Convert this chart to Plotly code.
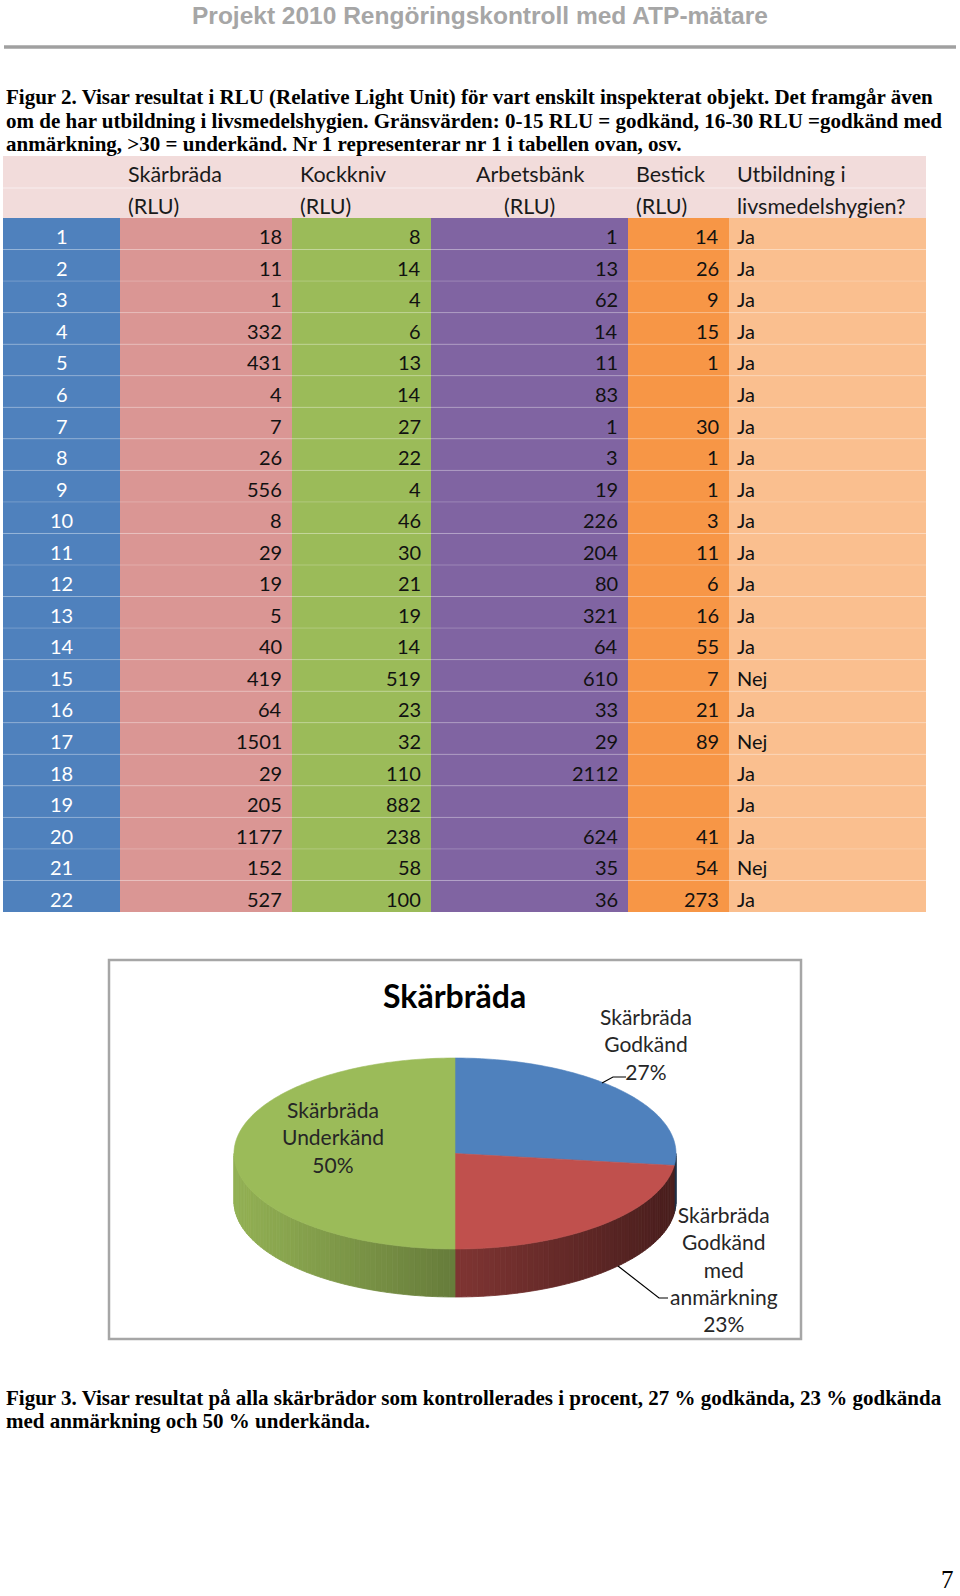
import numpy as np
import plotly.graph_objects as go

# ---------------- data ----------------
row_ids = [str(i) for i in range(1, 23)]
skarbrada = [18, 11, 1, 332, 431, 4, 7, 26, 556, 8, 29, 19, 5, 40, 419, 64, 1501, 29, 205, 1177, 152, 527]
kockkniv = [8, 14, 4, 6, 13, 14, 27, 22, 4, 46, 30, 21, 19, 14, 519, 23, 32, 110, 882, 238, 58, 100]
arbetsbank = [1, 13, 62, 14, 11, 83, 1, 3, 19, 226, 204, 80, 321, 64, 610, 33, 29, 2112, None, 624, 35, 36]
bestick = [14, 26, 9, 15, 1, None, 30, 1, 1, 3, 11, 6, 16, 55, 7, 21, 89, None, None, 41, 54, 273]
utbildning = ["Ja", "Ja", "Ja", "Ja", "Ja", "Ja", "Ja", "Ja", "Ja", "Ja", "Ja", "Ja", "Ja", "Ja",
              "Nej", "Ja", "Nej", "Ja", "Ja", "Ja", "Nej", "Ja"]
header_line1 = ["", "Skärbräda", "Kockkniv", "Arbetsbänk", "Bestick", "Utbildning i"]
header_line2 = ["", "(RLU)", "(RLU)", "(RLU)", "(RLU)", "livsmedelshygien?"]

pie_title = "Skärbräda"
pie_names = ["Skärbräda<br>Godkänd", "Skärbräda<br>Godkänd<br>med<br>anmärkning", "Skärbräda<br>Underkänd"]
pie_values = [27, 23, 50]

page_title = "Projekt 2010 Rengöringskontroll med ATP-mätare"
caption2 = ["Figur 2. Visar resultat i RLU (Relative Light Unit) för vart enskilt inspekterat objekt. Det framgår även",
            "om de har utbildning i livsmedelshygien. Gränsvärden: 0-15 RLU = godkänd, 16-30 RLU =godkänd med",
            "anmärkning, &gt;30 = underkänd. Nr 1 representerar nr 1 i tabellen ovan, osv."]
caption3 = ["Figur 3. Visar resultat på alla skärbrädor som kontrollerades i procent, 27 % godkända, 23 % godkända",
            "med anmärkning och 50 % underkända."]
page_number = "7"

# ---------------- layout / style ----------------
W, H = 960, 1596
col_edges = [3, 120, 292, 431, 628, 729, 926]
col_colors = ["#4F81BD", "#DA9694", "#9BBB59", "#8064A2", "#F79646", "#FABF8F"]
col_align = ["center", "right", "right", "right", "right", "left"]
head_align = ["left", "left", "left", "center", "left", "left"]
head_top, head_bot = 156, 218
row_h = (912 - 218) / 22
pad = 8
tfont = "Lato"
tsize = 20
hsize = 21.5
txt_dy = 2.5

fig = go.Figure()
shapes = []
annos = []


def text(x, y, s, size, color, family, xanchor="left", yanchor="middle", bold=False):
    annos.append(dict(x=x, y=y, xref="x", yref="y", text=("<b>%s</b>" % s) if bold else s,
                      showarrow=False, xanchor=xanchor, yanchor=yanchor,
                      font=dict(size=size, color=color, family=family), align="center"))


def rect(x0, y0, x1, y1, fill, line=None, lw=0):
    shapes.append(dict(type="rect", x0=x0, y0=y0, x1=x1, y1=y1, xref="x", yref="y",
                       fillcolor=fill, line=dict(width=lw, color=line or fill), layer="below"))


def path(d, fill=None, line="#000", lw=1, layer="above"):
    shapes.append(dict(type="path", path=d, xref="x", yref="y",
                       fillcolor=fill if fill else "rgba(0,0,0,0)",
                       line=dict(width=lw, color=line), layer=layer))


# page header
text(W / 2, 15, page_title, 24.5, "#A6A6A6", "Liberation Sans", "center", bold=True)
shapes.append(dict(type="line", x0=4, x1=956, y0=47, y1=47, xref="x", yref="y",
                   line=dict(color="#A0A0A0", width=3.5)))

for i, s in enumerate(caption2):
    text(4, 97 + i * 23.5, s, 21, "#000", "Liberation Serif", bold=True)

# table header
rect(col_edges[0], head_top, col_edges[-1], head_bot, "#F2DCDB")
shapes.append(dict(type="line", x0=col_edges[0], x1=col_edges[-1], y0=188, y1=188, xref="x", yref="y",
                   line=dict(color="rgba(255,255,255,0.55)", width=1), layer="below"))
for c in range(6):
    x0, x1 = col_edges[c], col_edges[c + 1]
    for line_txt, yy in ((header_line1[c], 171), (header_line2[c], 203)):
        if not line_txt:
            continue
        if head_align[c] == "center":
            text((x0 + x1) / 2, yy + txt_dy, line_txt, hsize, "#1a1a1a", tfont, "center")
        else:
            text(x0 + pad - 2, yy + txt_dy, line_txt, hsize, "#1a1a1a", tfont, "left")

# table body
columns = [row_ids, skarbrada, kockkniv, arbetsbank, bestick, utbildning]
for r in range(len(row_ids)):
    y0 = head_bot + r * row_h
    y1 = y0 + row_h
    yc = (y0 + y1) / 2 + txt_dy
    for c in range(6):
        x0, x1 = col_edges[c], col_edges[c + 1]
        rect(x0, y0, x1, y1, col_colors[c])
        v = columns[c][r]
        if v is None:
            continue
        color = "#FFFFFF" if c == 0 else "#111111"
        if col_align[c] == "center":
            text((x0 + x1) / 2, yc, str(v), tsize, color, tfont, "center")
        elif col_align[c] == "right":
            text(x1 - pad, yc, str(v), tsize, color, tfont, "right")
        else:
            text(x0 + pad - 2, yc, str(v), tsize, color, tfont, "left")
    if r > 0:
        shapes.append(dict(type="line", x0=col_edges[0], x1=col_edges[-1], y0=y0, y1=y0, xref="x", yref="y",
                           line=dict(color="rgba(255,255,255,0.22)", width=1), layer="below"))

# ---------------- pie chart ----------------
rect(109, 960, 801, 1339, "#FFFFFF", "#A6A6A6", 2.5)
text(454, 995, pie_title, 32, "#000", tfont, "center", bold=True)

cx, cy, rx, ry, depth = 455, 1153.5, 221, 95.5, 48
pie_colors = ["#4F81BD", "#C0504D", "#9BBB59"]


def rim(theta, dy=0.0):
    t = np.radians(theta)
    return cx + rx * np.sin(t), cy - ry * np.cos(t) + dy


def hex_scale(hx, f):
    r, g, b = int(hx[1:3], 16), int(hx[3:5], 16), int(hx[5:7], 16)
    return "rgb(%d,%d,%d)" % (min(255, r * f), min(255, g * f), min(255, b * f))


bounds = np.concatenate([[0], np.cumsum(pie_values)]) / float(sum(pie_values)) * 360.0

# sides (front half only)
for k in range(len(pie_values)):
    a0, a1 = bounds[k], bounds[k + 1]
    lo, hi = max(a0, 90.0), min(a1, 270.0)
    if hi <= lo:
        continue
    n = int(np.ceil((hi - lo) / 1.5))
    ts = np.linspace(lo, hi, n + 1)
    for j in range(n):
        t0, t1 = ts[j], ts[j + 1]
        xm = rim((t0 + t1) / 2)[0]
        f = 0.95 - (xm - (cx - rx)) / (2 * rx) * 0.57
        col = hex_scale(pie_colors[k], f)
        p0, p1 = rim(t0), rim(t1)
        q1, q0 = rim(t1, depth), rim(t0, depth)
        d = "M %.2f %.2f L %.2f %.2f L %.2f %.2f L %.2f %.2f Z" % (p0 + p1 + q1 + q0)
        path(d, fill=col, line=col, lw=0.8)

# top faces
for k in range(len(pie_values)):
    a0, a1 = bounds[k], bounds[k + 1]
    ts = np.linspace(a0, a1, int(np.ceil(a1 - a0)) + 2)
    pts = ["L %.2f %.2f" % rim(t) for t in ts]
    d = "M %.2f %.2f " % (cx, cy) + " ".join(pts) + " Z"
    path(d, fill=pie_colors[k], line=pie_colors[k], lw=0.6)

# labels
lab_col = "#262626"
text(646, 1044, pie_names[0] + "<br>%d%%" % pie_values[0], 21, lab_col, tfont, "center")
text(724, 1269, pie_names[1] + "<br>%d%%" % pie_values[1], 21, lab_col, tfont, "center")
text(333, 1137, pie_names[2] + "<br>%d%%" % pie_values[2], 21, lab_col, tfont, "center")
path("M 602 1083 L 613 1077 L 626 1077", line="#000", lw=1.2)
path("M 618 1266 L 659 1298 L 668 1298", line="#000", lw=1.2)

# figure 3 caption
for i, s in enumerate(caption3):
    text(4, 1398 + i * 23, s, 21, "#000", "Liberation Serif", bold=True)
text(956, 1579, page_number, 25, "#000", "Liberation Serif", "right")

fig.update_layout(
    width=W, height=H, margin=dict(l=0, r=0, t=0, b=0),
    paper_bgcolor="#FFFFFF", plot_bgcolor="#FFFFFF",
    xaxis=dict(range=[0, W], visible=False, fixedrange=True),
    yaxis=dict(range=[H, 0], visible=False, fixedrange=True),
    shapes=shapes, annotations=annos, showlegend=False,
)
fig.add_trace(go.Scatter(x=[0, W], y=[0, H], mode="markers", marker=dict(opacity=0), hoverinfo="skip"))

fig.write_html("out.html", config={"displayModeBar": False},
               post_script="document.body.style.margin='0';document.body.style.overflow='hidden';")
